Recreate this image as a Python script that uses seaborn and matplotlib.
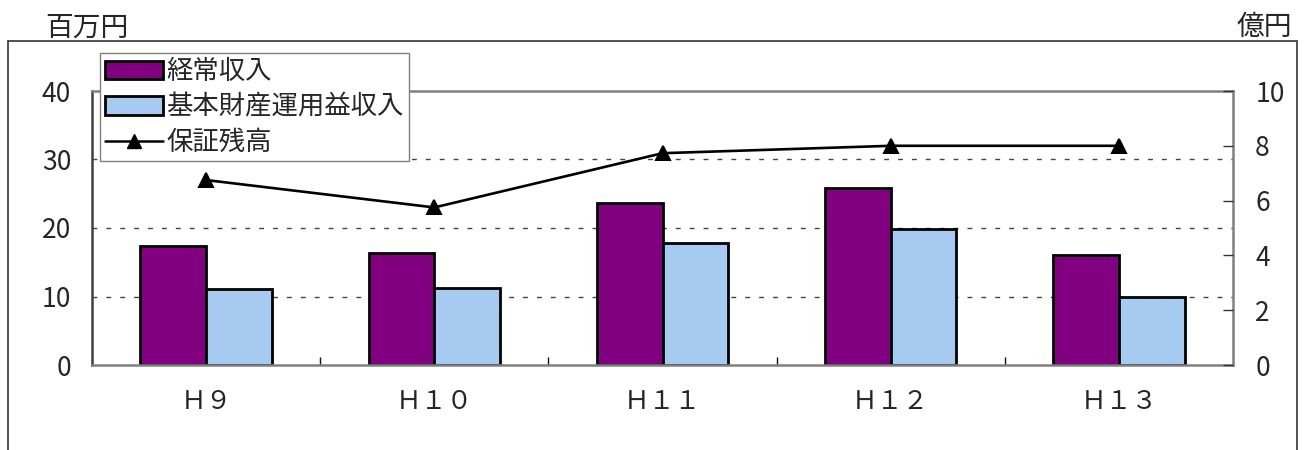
import matplotlib
matplotlib.use('Agg')
import matplotlib.pyplot as plt
from matplotlib.patches import Rectangle
from matplotlib.lines import Line2D
import seaborn as sns
import pandas as pd

years = ['Ｈ９', 'Ｈ１０', 'Ｈ１１', 'Ｈ１２', 'Ｈ１３']
keijo = [17.4, 16.4, 23.6, 25.9, 16.0]        # 経常収入 (百万円)
kihon = [11.1, 11.3, 17.8, 19.9, 10.0]        # 基本財産運用益収入 (百万円)
hosho = [6.75, 5.75, 7.73, 8.0, 8.0]          # 保証残高 (億円)

left_ticks = [0, 10, 20, 30, 40]
right_ticks = [0, 2, 4, 6, 8, 10]

sns.set_theme(style='white')
plt.rcParams['font.family'] = ['Noto Sans CJK JP', 'DejaVu Sans']

df = pd.DataFrame({
    'year': years * 2,
    'value': keijo + kihon,
    'series': ['経常収入'] * len(years) + ['基本財産運用益収入'] * len(years),
})
palette = {'経常収入': '#800080', '基本財産運用益収入': '#A6CAF0'}

fig = plt.figure(figsize=(13.05, 4.5), dpi=100)
ax = fig.add_axes([92 / 1305, 1 - 365 / 450, (1233 - 92) / 1305, (365 - 91) / 450])

sns.barplot(data=df, x='year', y='value', hue='series', palette=palette,
            order=years, width=0.575, edgecolor='black', linewidth=2.0,
            saturation=1, ax=ax)
handles, labels = ax.get_legend_handles_labels()
ax.get_legend().remove()

ax.set_ylim(0, 40)
ax.set_yticks(left_ticks)
ax.set_xlim(-0.5, len(years) - 0.5)
ax.set_xlabel('')
ax.set_ylabel('')
for y in left_ticks[1:-1]:
    ax.axhline(y, color='#444444', lw=1.0, ls=(0, (3.5, 6.5)), zorder=0)

ax.tick_params(axis='y', length=0, pad=15, labelsize=19)
ax.tick_params(axis='x', length=0, pad=17, labelsize=18.5)
ax.set_xticks([i + 0.5 for i in range(len(years) - 1)], minor=True)
ax.tick_params(axis='x', which='minor', direction='in', length=6, width=1,
               color='#111111', bottom=True)
for s in ax.spines.values():
    s.set_color('#808080')
    s.set_linewidth(1.8)
ax.spines['left'].set_color('#404040')

ax2 = ax.twinx()
sns.pointplot(x=years, y=hosho, color='black', markers='^', linestyles='-',
              markersize=10, linewidth=1.9, ax=ax2)
ax2.set_xlim(-0.5, len(years) - 0.5)
ax2.set_ylim(0, 10)
ax2.set_yticks(right_ticks)
ax2.tick_params(axis='y', direction='in', length=7, width=1, color='#333333',
                pad=16, labelsize=19)
for s in ax2.spines.values():
    s.set_visible(False)

handles.append(Line2D([], [], color='black', marker='^', markersize=10, lw=1.8))
labels.append('保証残高')
for h in handles[:2]:
    h.set_linewidth(2.0)
fig.legend(handles, labels, loc='upper left',
           bbox_to_anchor=(100 / 1305, 1 - 53 / 450), fontsize=19,
           frameon=True, fancybox=False, edgecolor='#808080', framealpha=1,
           borderpad=0.2, labelspacing=0.32, handlelength=2.2,
           handletextpad=0.1, borderaxespad=0)

fig.patches.append(Rectangle((8 / 1305, -0.1), (1297 - 8) / 1305, 1.1 - 41 / 450,
                             transform=fig.transFigure, fill=False,
                             edgecolor='#333333', lw=1.2))
fig.text(45 / 1305, 1 - 28 / 450, '百万円', fontsize=20, ha='left', va='center')
fig.text(1292 / 1305, 1 - 27 / 450, '億円', fontsize=20, ha='right', va='center')

fig.savefig('out.png', dpi=100)
